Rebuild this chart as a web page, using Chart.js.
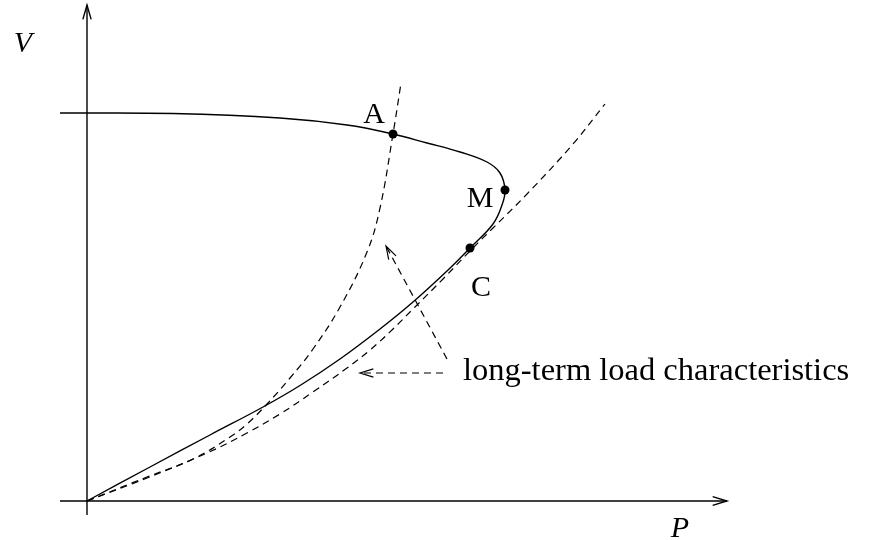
<!DOCTYPE html>
<html>
<head>
<meta charset="utf-8">
<title>PV curve and load characteristics</title>
<script src="https://cdn.jsdelivr.net/npm/chart.js@4"></script>
<style>
  html, body { margin: 0; padding: 0; background: #fff; }
  canvas { display: block; }
</style>
</head>
<body>
<canvas id="pv" width="869" height="540"></canvas>
<script>
// network PV curve (nose curve), traced from the top branch round the nose down to the origin
const pvP = [-0.27, 0.86, 1.93, 2.60, 3.06, 3.40, 3.73, 4.00, 4.13, 4.18, 4.15, 4.06, 3.83, 3.60, 3.26, 2.93, 2.53, 2.13, 1.76, 1.23, 0.63, 0];
const pvV = [3.88, 3.875, 3.83, 3.76, 3.67, 3.58, 3.49, 3.39, 3.28, 3.11, 2.96, 2.77, 2.53, 2.30, 1.99, 1.72, 1.42, 1.155, 0.94, 0.66, 0.34, 0];

// long-term load characteristics
const load1P = [0, 0.60, 1.06, 1.43, 1.60, 1.80, 2.03, 2.26, 2.53, 2.80, 2.93, 3.06, 3.14];
const load1V = [0, 0.24, 0.42, 0.64, 0.77, 0.97, 1.23, 1.52, 1.94, 2.49, 2.93, 3.67, 4.18];
const load2P = [0, 0.60, 1.20, 1.60, 1.93, 2.26, 2.60, 2.83, 3.06, 3.28, 3.56, 3.83, 4.06, 4.40, 4.86, 5.18];
const load2V = [0, 0.23, 0.48, 0.68, 0.87, 1.09, 1.33, 1.51, 1.72, 1.94, 2.22, 2.50, 2.73, 3.07, 3.57, 3.97];

// operating points A, M (nose), C
const pointNames = ['A', 'M', 'C'];
const pointP = [3.06, 4.18, 3.83];
const pointV = [3.67, 3.11, 2.53];

// axes and the two pointer arrows
const axisPP = [-0.27, 6.40];
const axisVP = [0, 0];
const axisPV = [0, 0];
const axisVV = [-0.14, 4.96];
const pointerAP = [3.60, 2.99];
const pointerAV = [1.42, 2.55];
const pointerBP = [3.56, 2.73];
const pointerBV = [1.28, 1.28];

const zip = (ps, vs) => ps.map((p, i) => ({ x: p, y: vs[i] }));

// text placed in data coordinates (alphabetic baseline)
const notes = [
    { text: 'A', p: 2.87, v: 3.78, align: 'center', italic: false, size: 30 },
    { text: 'M', p: 3.93, v: 2.94, align: 'center', italic: false, size: 30 },
    { text: 'C', p: 3.94, v: 2.05, align: 'center', italic: false, size: 30 },
    { text: 'V', p: -0.64, v: 4.49, align: 'center', italic: true, size: 30 },
    { text: 'P', p: 5.93, v: -0.36, align: 'center', italic: true, size: 30 },
    { text: 'long-term load characteristics', p: 3.76, v: 1.215, align: 'left', italic: false, size: 32.5 }
];

// open arrow heads on datasets flagged with arrowHead, plus the text notes
const sketchPlugin = {
    id: 'sketch',
    afterDatasetsDraw(chart) {
        const ctx = chart.ctx;
        const xs = chart.scales.x;
        const ys = chart.scales.y;
        chart.data.datasets.forEach(ds => {
            if (!ds.arrowHead) return;
            const n = ds.data.length;
            const tx = xs.getPixelForValue(ds.data[n - 1].x);
            const ty = ys.getPixelForValue(ds.data[n - 1].y);
            const fx = xs.getPixelForValue(ds.data[n - 2].x);
            const fy = ys.getPixelForValue(ds.data[n - 2].y);
            const ang = Math.atan2(ty - fy, tx - fx);
            const len = ds.arrowHead.len, spread = ds.arrowHead.spread;
            ctx.save();
            ctx.strokeStyle = '#000';
            ctx.lineWidth = ds.borderWidth;
            ctx.setLineDash([]);
            ctx.beginPath();
            ctx.moveTo(tx - len * Math.cos(ang - spread), ty - len * Math.sin(ang - spread));
            ctx.lineTo(tx, ty);
            ctx.lineTo(tx - len * Math.cos(ang + spread), ty - len * Math.sin(ang + spread));
            ctx.stroke();
            ctx.restore();
        });

        ctx.save();
        ctx.fillStyle = '#000';
        ctx.textBaseline = 'alphabetic';
        notes.forEach(n => {
            ctx.font = (n.italic ? 'italic ' : '') + n.size + 'px "Liberation Serif", "DejaVu Serif", serif';
            ctx.textAlign = n.align;
            ctx.fillText(n.text, xs.getPixelForValue(n.p), ys.getPixelForValue(n.v));
        });
        ctx.restore();
    }
};

const lineSet = (data, extra) => Object.assign({
    data: data,
    showLine: true,
    borderColor: '#000',
    borderWidth: 1.2,
    pointRadius: 0,
    tension: 0,
    fill: false
}, extra);

new Chart(document.getElementById('pv').getContext('2d'), {
    type: 'scatter',
    data: {
        datasets: [
            lineSet(zip(axisPP, axisVP), { borderWidth: 1.4, arrowHead: { len: 15, spread: 0.3 } }),
            lineSet(zip(axisPV, axisVV), { borderWidth: 1.4, arrowHead: { len: 15, spread: 0.28 } }),
            lineSet(zip(load1P, load1V), { borderDash: [7, 5], tension: 0.4 }),
            lineSet(zip(load2P, load2V), { borderDash: [7, 5], tension: 0.4 }),
            lineSet(zip(pvP, pvV), { borderWidth: 1.4, tension: 0.4 }),
            lineSet(zip(pointerAP, pointerAV), { borderDash: [7, 5], arrowHead: { len: 14, spread: 0.3 } }),
            lineSet(zip(pointerBP, pointerBV), { borderDash: [7, 5], arrowHead: { len: 14, spread: 0.3 } }),
            {
                data: zip(pointP, pointV),
                showLine: false,
                pointRadius: 4.5,
                pointBackgroundColor: '#000',
                pointBorderColor: '#000',
                pointBorderWidth: 0
            }
        ]
    },
    options: {
        responsive: false,
        animation: false,
        layout: { padding: 0, autoPadding: false },
        scales: {
            x: { type: 'linear', min: -0.87, max: 7.82, display: false },
            y: { type: 'linear', min: -0.39, max: 5.01, display: false }
        },
        plugins: {
            legend: { display: false },
            tooltip: { enabled: false }
        }
    },
    plugins: [sketchPlugin]
});
</script>
</body>
</html>
